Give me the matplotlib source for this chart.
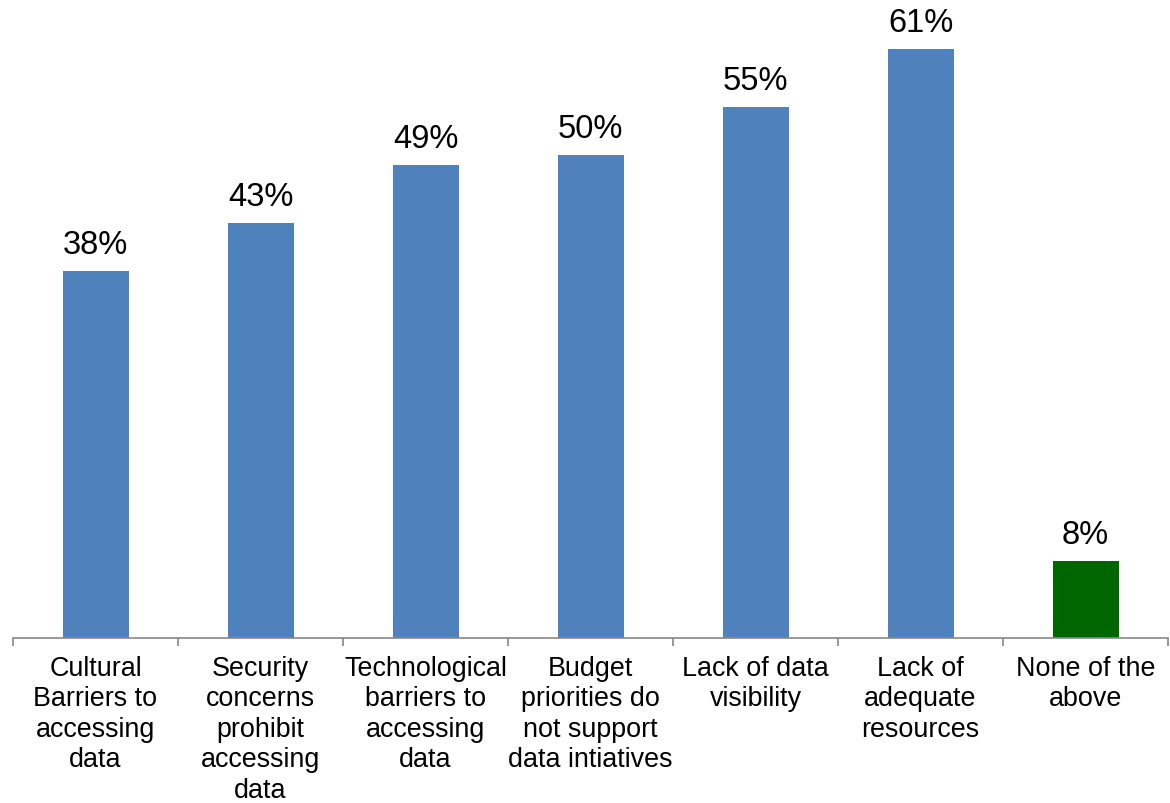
import numpy as np
import matplotlib.pyplot as plt

categories = [
    'Cultural\nBarriers to\naccessing\ndata',
    'Security\nconcerns\nprohibit\naccessing\ndata',
    'Technological\nbarriers to\naccessing\ndata',
    'Budget\npriorities do\nnot support\ndata intiatives',
    'Lack of data\nvisibility',
    'Lack of\nadequate\nresources',
    'None of the\nabove',
]
values = [38, 43, 49, 50, 55, 61, 8]
colors = ['#4F81BD'] * 6 + ['#006600']

plt.rcParams['font.family'] = ['Liberation Sans', 'DejaVu Sans']

fig = plt.figure(figsize=(11.7, 8.04), dpi=100)
ax = fig.add_axes([13 / 1170, 165 / 804, 1155 / 1170, 637 / 804])

x = np.arange(len(values))
bars = ax.bar(x, values, width=0.4, color=colors)

for b, v in zip(bars, values):
    ax.annotate(f'{v}%', (b.get_x() + b.get_width() / 2, v),
                xytext=(0, 8), textcoords='offset points',
                ha='center', va='bottom', fontsize=23.5)

ax.set_xlim(-0.5, len(values) - 0.5)
ax.set_ylim(0, 66)
ax.set_yticks([])
ax.set_xticks(x)
ax.set_xticklabels(categories, fontsize=19.4, linespacing=1.23)
ax.set_xticks(np.arange(-0.5, len(values)), minor=True)
ax.tick_params(axis='x', which='major', length=0, pad=12)
ax.tick_params(axis='x', which='minor', length=6, width=1.2, color='#888888')

for s in ['top', 'right', 'left']:
    ax.spines[s].set_visible(False)
ax.spines['bottom'].set_color('#888888')
ax.spines['bottom'].set_linewidth(1.2)

fig.savefig('out.png', dpi=100)
